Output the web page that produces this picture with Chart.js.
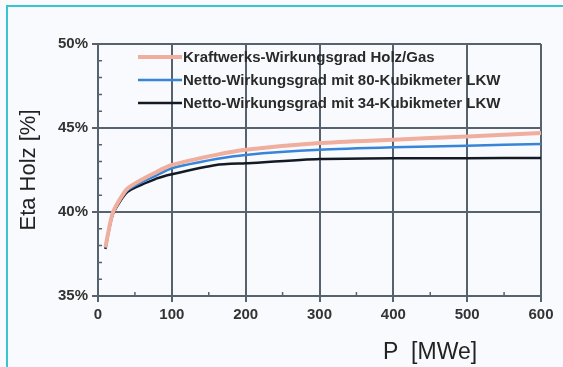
<!DOCTYPE html>
<html>
<head>
<meta charset="utf-8">
<script src="https://cdn.jsdelivr.net/npm/chart.js@4"></script>
<style>
  html, body { margin: 0; padding: 0; background: #f8fafd; }
  #wrap { position: relative; width: 563px; height: 367px; overflow: hidden; }
  #frame { position: absolute; left: 6px; top: 5px; width: 600px; height: 400px;
           border-left: 2px solid #35c6cf; border-top: 2px solid #35c6cf; pointer-events: none; }
  canvas { position: absolute; left: 0; top: 0; }
</style>
</head>
<body>
<div id="wrap">
  <canvas id="chart" width="563" height="367"></canvas>
  <div id="frame"></div>
</div>
<script>
// Daten
const powerMW = [10, 20, 40, 80, 100, 160, 200, 300, 400, 500, 600];
const etaPlant   = [37.9, 39.95, 41.4, 42.4, 42.8, 43.4, 43.7, 44.1, 44.3, 44.5, 44.7];
const etaTruck80 = [37.85, 39.9, 41.3, 42.2, 42.6, 43.15, 43.4, 43.7, 43.85, 43.95, 44.05];
const etaTruck34 = [37.8, 39.85, 41.2, 42.0, 42.25, 42.8, 42.9, 43.15, 43.2, 43.2, 43.22];
const seriesLabels = [
    'Kraftwerks-Wirkungsgrad Holz/Gas',
    'Netto-Wirkungsgrad mit 80-Kubikmeter LKW',
    'Netto-Wirkungsgrad mit 34-Kubikmeter LKW'
];
const xTicks = [0, 100, 200, 300, 400, 500, 600];
const yTicks = [35, 40, 45, 50];
const xMinor = [50, 150, 250, 350, 450, 550];
const yMinor = [36, 37, 38, 39, 41, 42, 43, 44, 46, 47, 48, 49];

const FONT = '"Liberation Sans", Arial, sans-serif';
const GRID = '#56636f';

function toPoints(vals) {
    return powerMW.map((p, i) => ({ x: p, y: vals[i] }));
}

// kleine Teilstriche innen an den Achsen
const minorTicks = {
    id: 'minorTicks',
    afterDraw(chart) {
        const ctx = chart.ctx;
        const a = chart.chartArea;
        const xs = chart.scales.x, ys = chart.scales.y;
        ctx.save();
        ctx.strokeStyle = GRID;
        ctx.lineWidth = 1.5;
        ctx.beginPath();
        yMinor.forEach(v => {
            const y = ys.getPixelForValue(v);
            ctx.moveTo(a.left, y); ctx.lineTo(a.left + 4, y);
        });
        xMinor.forEach(v => {
            const x = xs.getPixelForValue(v);
            ctx.moveTo(x, a.bottom); ctx.lineTo(x, a.bottom - 4);
        });
        ctx.stroke();
        ctx.restore();
    }
};

// Legende innerhalb der Zeichenfläche
const innerLegend = {
    id: 'innerLegend',
    afterDatasetsDraw(chart) {
        const ctx = chart.ctx;
        const a = chart.chartArea;
        ctx.save();
        ctx.font = 'bold 15px ' + FONT;
        ctx.textBaseline = 'middle';
        chart.data.datasets.forEach((ds, i) => {
            const y = a.top + 13 + i * 23;
            ctx.strokeStyle = ds.borderColor;
            ctx.lineWidth = ds.borderWidth;
            ctx.beginPath();
            ctx.moveTo(a.left + 40, y);
            ctx.lineTo(a.left + 84, y);
            ctx.stroke();
            ctx.fillStyle = '#2a2a2a';
            ctx.fillText(ds.label, a.left + 85, y + 1);
        });
        ctx.restore();
    }
};

// x-Achsentitel rechts versetzt
const xTitle = {
    id: 'xTitle',
    afterDraw(chart) {
        const ctx = chart.ctx;
        ctx.save();
        ctx.font = '23px ' + FONT;
        ctx.fillStyle = '#222';
        ctx.textAlign = 'left';
        ctx.textBaseline = 'middle';
        ctx.fillText('P  [MWe]', 383, 353);
        ctx.restore();
    }
};

new Chart(document.getElementById('chart'), {
    type: 'line',
    data: {
        datasets: [
            { label: seriesLabels[0], data: toPoints(etaPlant), borderColor: '#f0ae9e', borderWidth: 4 },
            { label: seriesLabels[1], data: toPoints(etaTruck80), borderColor: '#3784d8', borderWidth: 2.5 },
            { label: seriesLabels[2], data: toPoints(etaTruck34), borderColor: '#141a24', borderWidth: 2.5 }
        ]
    },
    options: {
        responsive: false,
        animation: false,
        layout: { padding: { top: 44, right: 22, left: 0, bottom: 0 } },
        elements: { point: { radius: 0 }, line: { tension: 0.2 } },
        plugins: { legend: { display: false }, tooltip: { enabled: false } },
        scales: {
            x: {
                type: 'linear', min: 0, max: 600,
                afterBuildTicks: s => { s.ticks = xTicks.map(v => ({ value: v })); },
                afterFit: s => { s.height = 71; },
                grid: { color: GRID, lineWidth: 2, tickLength: 6, tickColor: GRID },
                border: { color: GRID, width: 2 },
                ticks: { color: '#333', font: { family: FONT, size: 15, weight: 'bold' }, padding: 4, maxRotation: 0 }
            },
            y: {
                min: 35, max: 50,
                afterBuildTicks: s => { s.ticks = yTicks.map(v => ({ value: v })); },
                afterFit: s => { s.width = 98; },
                grid: { color: GRID, lineWidth: 2, tickLength: 6, tickColor: GRID },
                border: { color: GRID, width: 2 },
                ticks: { color: '#333', font: { family: FONT, size: 15, weight: 'bold' }, padding: 4, callback: v => v + '%' },
                title: { display: true, text: 'Eta Holz [%]', color: '#222',
                         font: { family: FONT, size: 22 }, padding: { top: 16 } }
            }
        }
    },
    plugins: [innerLegend, xTitle, minorTicks]
});
</script>
</body>
</html>
